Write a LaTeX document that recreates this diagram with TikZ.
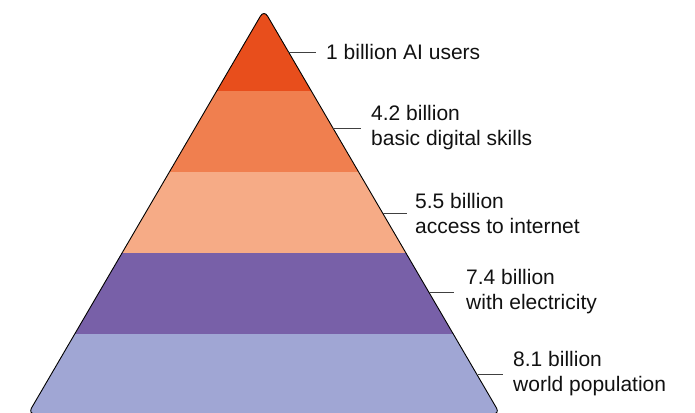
\documentclass[tikz,border=0pt]{standalone}
\usepackage{fontspec}
\setmainfont{Liberation Sans}
\definecolor{bandA}{HTML}{E84E1C}
\definecolor{bandB}{HTML}{F07F4F}
\definecolor{bandC}{HTML}{F6AB86}
\definecolor{bandD}{HTML}{7860A8}
\definecolor{bandE}{HTML}{A0A6D4}
\definecolor{tickgray}{HTML}{404040}
\definecolor{txt}{HTML}{111111}
\begin{document}
\begin{tikzpicture}[x=1pt,y=-1pt,
  lbl/.style={anchor=west,inner sep=0pt,align=left,text=txt,
    font=\fontsize{21}{25}\selectfont},
  tickline/.style={draw=tickgray,line width=0.9pt}]
\useasboundingbox (0,0) rectangle (695,412);
\begin{scope}
  \clip[rounded corners=7pt] (28,414) -- (264,10) -- (500,414) -- cycle;
  \fill[bandA] (0,0) rectangle (695,91);
  \fill[bandB] (0,91) rectangle (695,172);
  \fill[bandC] (0,172) rectangle (695,253);
  \fill[bandD] (0,253) rectangle (695,334);
  \fill[bandE] (0,334) rectangle (695,420);
\end{scope}
\draw[black,line width=0.9pt,rounded corners=7pt] (28,414) -- (264,10) -- (500,414) -- cycle;
% label anchors on the edge
\coordinate (e1) at (288,52);
\coordinate (e2) at (333,128);
\coordinate (e3) at (383,213);
\coordinate (e4) at (429,292);
\coordinate (e5) at (478,374);
\node[lbl] (l1) at (326,52) {1 billion AI users};
\node[lbl] (l2) at (371,128) {4.2 billion\\basic digital skills};
\node[lbl] (l3) at (415,213) {5.5 billion\\access to internet};
\node[lbl] (l4) at (466,292) {7.4 billion\\with electricity};
\node[lbl] (l5) at (513,374) {8.1 billion\\world population};
\draw[tickline] (e1) -- ([xshift=-10pt]l1.west);
\draw[tickline] (e2) -- ([xshift=-10pt]l2.west);
\draw[tickline] (e3) -- ([xshift=-8pt]l3.west);
\draw[tickline] (e4) -- ([xshift=-12pt]l4.west);
\draw[tickline] (e5) -- ([xshift=-10pt]l5.west);
\end{tikzpicture}
\end{document}
